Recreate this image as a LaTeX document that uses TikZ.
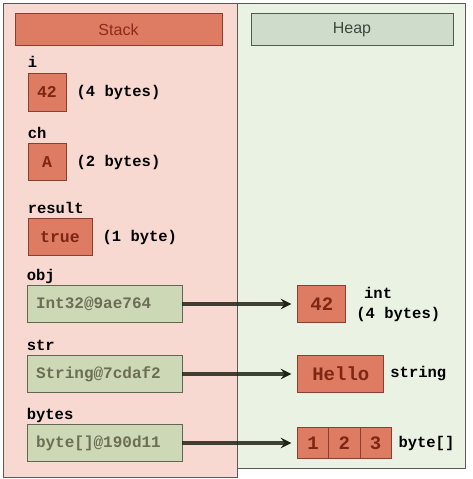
\documentclass[tikz,border=0pt]{standalone}
\usepackage{fontspec}
\setmainfont{Liberation Sans}
\setmonofont{Liberation Mono}
\usepackage{tikz}
\usetikzlibrary{positioning, arrows}
\definecolor{stackbg}{HTML}{F8D9D2}
\definecolor{heapbg}{HTML}{E9F2E3}
\definecolor{salmon}{HTML}{DE7B63}
\definecolor{salmonline}{HTML}{8C3F2E}
\definecolor{valtext}{HTML}{7E2614}
\definecolor{stacktext}{HTML}{8C2B1B}
\definecolor{olive}{HTML}{CDD8B6}
\definecolor{oliveline}{HTML}{626652}
\definecolor{olivetext}{HTML}{6B6D55}
\definecolor{heaphead}{HTML}{D0DCCB}
\definecolor{heapline}{HTML}{4F5C4F}
\definecolor{heaptext}{HTML}{3C4A3E}
\definecolor{arrowcol}{HTML}{1E2418}
\definecolor{frame}{HTML}{5A5A5A}
\tikzstyle{title} = [rectangle, minimum height=32pt, text centered, line width=1pt, font=\fontsize{16}{19}\selectfont]
\tikzstyle{stacktitle} = [title, minimum width=207pt, draw=salmonline, fill=salmon, text=stacktext]
\tikzstyle{heaptitle} = [title, minimum width=202pt, draw=heapline, fill=heaphead, text=heaptext]
\tikzstyle{value} = [rectangle, minimum width=38pt, minimum height=37pt, text centered, line width=0.8pt, draw=salmonline, fill=salmon, text=valtext, font=\ttfamily\bfseries\fontsize{16.5}{20}\selectfont]
\tikzstyle{ref} = [rectangle, text width=137pt, inner xsep=9pt, minimum height=37pt, align=left, line width=0.8pt, draw=oliveline, fill=olive, text=olivetext, font=\ttfamily\bfseries\fontsize{16}{20}\selectfont]
\tikzstyle{heapval} = [value, font=\ttfamily\bfseries\fontsize{19}{22}\selectfont]
\tikzstyle{cell} = [heapval, minimum width=31.3pt, minimum height=31pt, outer sep=0pt]
\tikzstyle{varname} = [anchor=base west, inner sep=0pt, yshift=5pt, font=\ttfamily\bfseries\fontsize{15.5}{18}\selectfont]
\tikzstyle{note} = [anchor=west, inner sep=0pt, xshift=10pt, font=\ttfamily\bfseries\fontsize{15.5}{20}\selectfont]
\tikzstyle{pointer} = [draw=arrowcol, draw opacity=0.85, line width=3.6pt, shorten >=6pt, ->, >=stealth]

\begin{document}
\begin{tikzpicture}[x=1pt, y=1pt, node distance=70pt]
\useasboundingbox (0,0) rectangle (472,479);
% PANELS
\draw [frame, fill=stackbg, line width=0.8pt] (3,2) rectangle (237,476);
\draw [frame, fill=heapbg, line width=0.8pt] (237,11) rectangle (465,476);

% NODES
\node (stack) [stacktitle] at (118.5,449) {Stack};
\node (heap) [heaptitle, right=28pt of stack] {Heap};

\node (i-val) [value, minimum height=38pt] at (47,387) {42};
\node (ch-val) [value, below of=i-val] {A};
\node (res-val) [value, minimum width=64pt, below of=ch-val, xshift=13pt, yshift=-5pt] {true};
\node (obj-ref) [ref, below of=res-val, xshift=44.5pt, yshift=3pt] {Int32@9ae764};
\node (str-ref) [ref, below of=obj-ref] {String@7cdaf2};
\node (bytes-ref) [ref, below of=str-ref, yshift=1pt] {byte[]@190d11};

\node (i-name) [varname] at (i-val.north west) {i};
\node (ch-name) [varname] at (ch-val.north west) {ch};
\node (res-name) [varname] at (res-val.north west) {result};
\node (obj-name) [varname] at (obj-ref.north west) {obj};
\node (str-name) [varname] at (str-ref.north west) {str};
\node (bytes-name) [varname] at (bytes-ref.north west) {bytes};

\node (i-size) [note] at (i-val.east) {(4 bytes)};
\node (ch-size) [note] at (ch-val.east) {(2 bytes)};
\node (res-size) [note] at (res-val.east) {(1 byte)};

\node (int-obj) [heapval, minimum width=48pt, right=115pt of obj-ref] {42};
\node (str-obj) [heapval, minimum width=86pt, right=115pt of str-ref] {Hello};
\node (b1) [cell, right=115pt of bytes-ref] {1};
\node (b2) [cell, right=0pt of b1] {2};
\node (b3) [cell, right=0pt of b2] {3};

\node (int-type) [note, align=left] at (int-obj.east) {\hspace{0.5em}int\\(4 bytes)};
\node (str-type) [note, xshift=-4pt] at (str-obj.east) {string};
\node (bytes-type) [note, xshift=-3pt] at (b3.east) {byte[]};

% ARROWS
\draw [pointer] (obj-ref) -- (int-obj);
\draw [pointer] (str-ref) -- (str-obj);
\draw [pointer] (bytes-ref) -- (b1);
\end{tikzpicture}
\end{document}
